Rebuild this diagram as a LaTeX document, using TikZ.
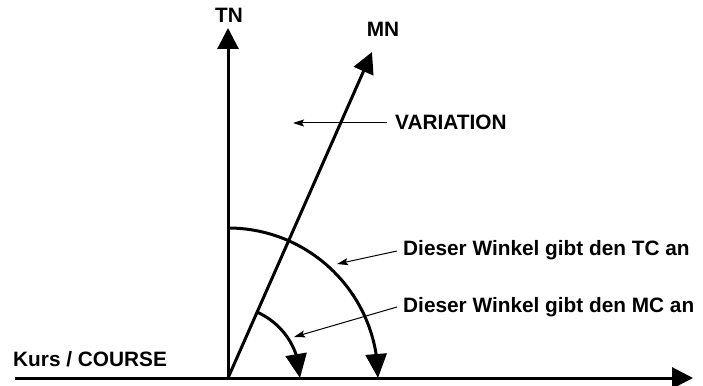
\documentclass[tikz,border=0pt]{standalone}
\usepackage{fontspec}
\setmainfont{Liberation Sans}
\usetikzlibrary{arrows.meta,bending}
\begin{document}
\begin{tikzpicture}[x=1pt,y=1pt,
  axis/.style={line width=3pt,-{Triangle[length=21pt,width=21pt]}},
  arcarrow/.style={line width=3pt,-{Triangle[length=24pt,width=21pt]}},
  pointer/.style={line width=1pt,-{Stealth[length=11pt,width=7pt,inset=2pt]}},
  lbl/.style={font=\fontsize{20.8}{24}\selectfont\bfseries,inner sep=0pt,anchor=base west}]
\useasboundingbox (0,0) rectangle (703,385);
\coordinate (O) at (228,7);
\coordinate (Wend) at (15,7);
\coordinate (Eend) at (693,7);
\coordinate (TNtip) at (228,357);
\coordinate (MNtip) at (372,333);
\draw[axis] (Wend) -- (Eend);
\draw[axis] (O) -- (TNtip);
\draw[axis] (O) -- (MNtip);
% arcs
\draw[arcarrow] ([shift={(90:150)}]O) arc[start angle=90,end angle=0,radius=150];
\draw[arcarrow] ([shift={(66:72)}]O) arc[start angle=66,end angle=0,radius=72];
% labels
\node[lbl,anchor=base] (tn) at (229,362) {TN};
\node[lbl,anchor=base] (mn) at (383,348) {MN};
\node[lbl] (var) at (395,255) {VARIATION};
\node[lbl] (tc) at (403,129) {Dieser Winkel gibt den TC an};
\node[lbl] (mc) at (403,72) {Dieser Winkel gibt den MC an};
\node[lbl] (kurs) at (13,18) {Kurs / COURSE};
% pointers
\coordinate (varS) at (387,262);
\coordinate (varT) at (293,262);
\coordinate (tcS) at (397,134);
\coordinate (tcT) at (337,121);
\coordinate (mcS) at (397,78);
\coordinate (mcT) at (294,48);
\draw[pointer] (varS) -- (varT);
\draw[pointer] (tcS) -- (tcT);
\draw[pointer] (mcS) -- (mcT);
\end{tikzpicture}
\end{document}
